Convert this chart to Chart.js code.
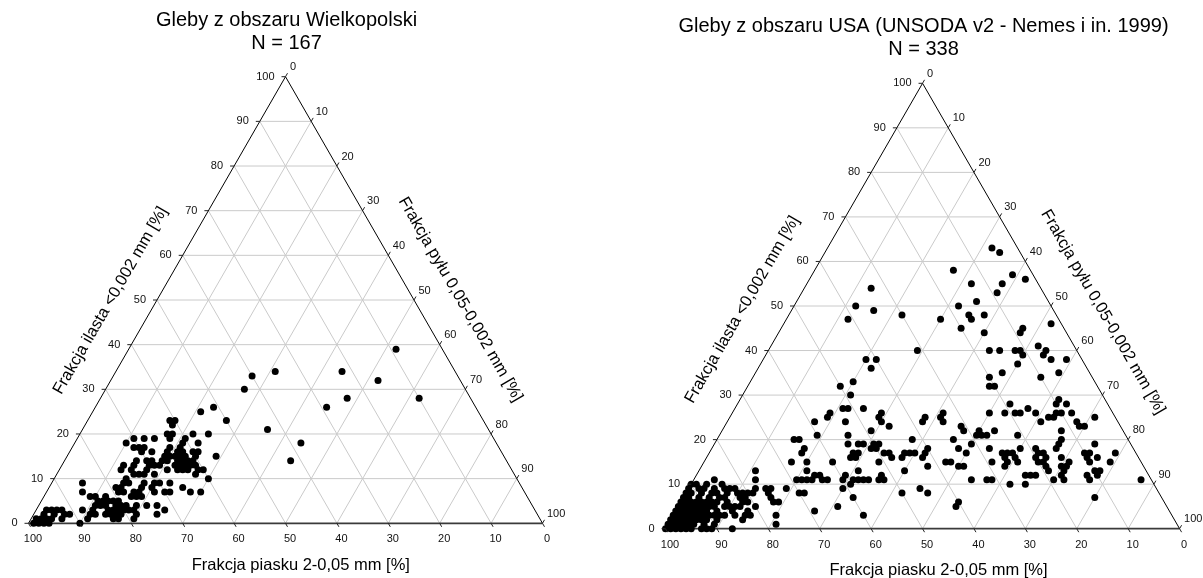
<!DOCTYPE html>
<html><head><meta charset="utf-8">
<script src="https://cdn.jsdelivr.net/npm/chart.js@4.4.1/dist/chart.umd.min.js"></script>
<style>
html,body{margin:0;padding:0;background:#fff;}
#wrap{position:relative;width:1203px;height:578px;overflow:hidden;background:#fff;}
canvas{position:absolute;top:0;}
</style></head><body>
<div id="wrap">
<canvas id="c1" width="601" height="578" style="left:0"></canvas>
<canvas id="c2" width="602" height="578" style="left:601px"></canvas>
</div>
<script>
// ---- texts ----
const wlkpTitle = ['Gleby z obszaru Wielkopolski', 'N = 167'];
const usaTitle = ['Gleby z obszaru USA (UNSODA v2 - Nemes i in. 1999)', 'N = 338'];
const sandAxisTitle = 'Frakcja piasku 2-0,05 mm [%]';
const clayAxisTitle = 'Frakcja ilasta <0,002 mm [%]';
const siltAxisTitle = 'Frakcja pyłu 0,05-0,002 mm [%]';
const tickValues = [0, 10, 20, 30, 40, 50, 60, 70, 80, 90, 100];
const gridValues = [10, 20, 30, 40, 50, 60, 70, 80, 90];

// ---- data: [sand %, clay %] ----
const wlkpSoils = [
[9,39],[22,34],[16,32],[24,28],[10,28],[29,26],[38,18],[42,14],[43,21],[35,34],[40,33],[43,30],[51,26],[54,25],[50,23],[55,20],[56,15],[60,10],[63,7],[65,7],[66,8],[62,11],[58,18],[58,20],[60,16],[59,16],[60,15],
[61,23],[60,23],[61,22],[63,20],[62,20],[63,19],[60,19],[70,19],[68,19],[66,19],[72,18],[61,18],[71,17],[70,17],[69,17],[70,16],[68,16],[62,17],
[64,17],[65,16],[63,16],[62,16],[66,15],[65,15],[64,15],[63,15],[62,15],[66,14],[64,14],[63,14],[62,14],[61,14],[65,13],[64,13],[63,13],[62,13],[61,13],[65,12],[64,12],[63,12],[61,12],[60,12],
[69,14],[68,13],[67,14],[69,13],[67,12],
[79,8],[77,9],[76,9],[79,7],[78,7],[76,7],[75,7],[75,13],[76,12],[74,11],[72,11],[72,14],[70,14],[73,13],[70,13],[70,11],[70,9],[72,8],[71,9],[70,7],[69,7],[72,7],[76,10],[78,8],[77,6],[76,6],[75,6],[74,12],[71,12],[73,9],[74,8],[68,9],[73,11],
[77,4],[78,3],[78,2],[80,3],[80,4],[79,4],[75,4],[73,4],[72,3],[74,2],[79,3],[79,1],[81,2],
[85,9],[86,7],[88,3],[88,1],[90,0],[86,2],[84,5],[83,5],[82,6],[86,3],[85,4],[84,4],[83,3],[83,2],[83,1],[82,1],[82,2],[82,5],[82,3],[84,6],[81,5],[81,4],[85,6],[83,4],[81,3],[80,5],[84,2],[87,2],
[98,0],[97,0],[96,0],[99,0],[97,1],[96,1],[95,1],[93,1],[96,2],[94,2],[92,2],[91,2],[95,3],[94,3],[93,3],[92,3],[98,1]
];

const usaSoils = [
[5,63],[4,62],[15,58],[33,54],[4,57],[7,55],[9,53],[2,56],[13,55],[14,51],[18,50],[38,50],[35,49],[41,47],[30,48],[23,47],[17,48],[17,47],[14,48],[20,45],[16,44],[9,44],[8,45],[2,46],
[31,40],[17,40],[15,40],[12,40],[11,40],[11,39],[7,41],[6,40],[7,39],[6,38],[3,38],[42,38],[40,38],[42,36],[13,37],[10,34],[6,35],[20,34],[17,35],[21,32],[20,32],[47,33],[50,32],[49,30],
[9,29],[10,28],[8,28],[19,28],[8,26],[11,26],[10,26],[19,26],[18,26],[16,27],[15,26],[24,26],[21,26],[13,25],[12,25],[15,24],[8,24],[8,23],[7,23],[4,25],[12,22],[25,22],[21,21],[28,22],[29,21],[28,21],[27,21],[31,23],[31,22],
[34,20],[34,18],[31,19],[33,17],[28,18],[29,15],[26,17],[26,16],[27,14],[24,17],[24,16],[22,18],[24,15],[25,17],[26,15],[24,12],[23,12],[22,12],[28,10],[25,10],[32,11],[31,11],[35,11],[19,18],[19,17],[20,16],[18,17],[18,16],[20,15],[19,15],[19,14],[19,13],[19,11],[17,12],[17,11],[16,14],[15,16],[15,14],[16,13],[15,18],[14,19],[13,20],[14,15],[10,17],[10,16],[9,17],[7,19],[10,15],[8,16],[9,13],[10,12],[10,13],[12,12],[12,11],[13,7],[6,15],[4,17],[2,11],[38,15],[37,15],[36,14],[35,14],[41,5],[40,6],
[59,24],[56,25],[55,26],[52,27],[51,27],[53,24],[54,21],[55,19],[60,21],[65,20],[64,20],[64,18],[65,17],[68,15],[65,15],[66,13],[60,15],[48,27],[45,26],[46,25],[46,24],[45,23],[49,22],[50,19],[50,18],[51,18],[49,19],[53,19],[52,19],[55,17],[54,17],[56,16],[55,16],[49,17],[48,17],[48,16],[51,15],[42,20],[40,18],[41,17],[42,16],[46,16],[45,17],[44,17],[43,17],[42,14],[47,13],[34,24],[34,25],[33,26],[38,24],[37,25],[46,9],[45,8],[50,8],[60,3],[60,7],[61,9],[64,5],[69,4],[77,3],[70,8],[69,8],[72,9],[69,11],[68,11],[67,11],[66,11],[65,12],[64,12],[63,11],[60,11],[59,12],[58,11],[57,11],[56,11],[55,11],[53,11],[52,12],[52,11],[59,10],[56,13],[64,11],[75,9],[76,7],
[85,11],[84,10],[83,9],[82,9],[82,8],[88,9],[87,8],[90,7],[89,6],[85,6],[85,5],[84,5],[83,5],[82,6],[81,6],[82,4],[80,5],[84,2],[87,0],[89,9],[86,9],[84,9],[93,5],[91,5],[90,6],[94,5],[95,3],[96,3],[98,2],[99,1],[100,0],[88,5],[86,5],[85,4],[88,3],[87,3],[85,3],[83,3],[82,3],[92,0],[81,8],[80,8],[79,8],[82,7],[81,7],[76,13],[77,11],[78,9],[76,9],[76,8],[76,6],[75,6],[78,1],
[99,0],[98,0],[97,0],[96,0],[95,0],[93,0],[91,0],
[98,1],[97,1],[96,1],[95,1],[94,1],[92,1],[90,1],
[97,2],[96,2],[95,2],[94,2],[93,2],[92,2],[91,2],[89,2],
[97,3],[94,3],[93,3],[92,3],[91,3],[90,3],[89,3],
[96,4],[95,4],[94,4],[93,4],[92,4],[91,4],[90,4],[88,4],
[95,5],[92,5],[90,5],[89,5],
[94,6],[93,6],[92,6],[91,6],[88,6],[87,6],
[93,7],[92,7],[88,7],[86,7],[85,7],
[92,8],[91,8],[89,8],[86,8],[84,8],
[91,9],[90,10],[89,10],[87,10]
];

// ---- ternary helpers (sand, clay) -> chart coords ----
function T(s, c) { return { x: 100 - s - c / 2, y: c }; }
const FONT = '"Liberation Sans", Arial, Helvetica, sans-serif';

function lineDs(pts, color, width, order) {
  return { type: 'scatter', data: pts, showLine: true, borderColor: color, borderWidth: width,
    pointRadius: 0, pointHoverRadius: 0, fill: false, clip: false, order: order };
}

function buildDatasets(points) {
  const ds = [];
  ds.push({ type: 'scatter', data: points.map(p => T(p[0], p[1])), pointRadius: 3.5, pointHoverRadius: 3.5,
    backgroundColor: '#000', borderWidth: 0, clip: false, order: 0 });
  ds.push(lineDs([T(100, 0), T(0, 100), T(0, 0)], '#000', 1, 1));
  ds.push(lineDs([T(100, 0), T(0, 0)], '#3a3a3a', 1.8, 1));
  for (const k of gridValues) {
    ds.push(lineDs([T(100 - k, k), T(0, k)], '#cacaca', 1, 5));
    ds.push(lineDs([T(k, 0), T(k, 100 - k)], '#cacaca', 1, 5));
    ds.push(lineDs([T(100 - k, 0), T(0, 100 - k)], '#cacaca', 1, 5));
  }
  return ds;
}

const decorPlugin = {
  id: 'ternaryDecor',
  afterDraw(chart, args, opts) {
    const ctx = chart.ctx;
    const xs = chart.scales.x, ys = chart.scales.y;
    const P = (s, c) => { const t = T(s, c); return { x: xs.getPixelForValue(t.x), y: ys.getPixelForValue(t.y) }; };
    ctx.save();
    ctx.strokeStyle = '#222';
    ctx.lineWidth = 1;
    ctx.fillStyle = '#111';
    ctx.font = '11px ' + FONT;
    for (const k of tickValues) {
      // clay (left side)
      let p = P(100 - k, k);
      ctx.beginPath(); ctx.moveTo(p.x - 4, p.y); ctx.lineTo(p.x, p.y); ctx.stroke();
      ctx.textAlign = 'right'; ctx.textBaseline = 'middle';
      ctx.fillText(String(k), p.x - 11, p.y);
      // sand (bottom)
      p = P(k, 0);
      ctx.beginPath(); ctx.moveTo(p.x, p.y); ctx.lineTo(p.x + 2, p.y + 3.5); ctx.stroke();
      ctx.textAlign = 'center'; ctx.textBaseline = 'middle';
      ctx.fillText(String(k), p.x + 4.5, p.y + 16);
      // silt (right side)
      p = P(0, 100 - k);
      ctx.beginPath(); ctx.moveTo(p.x, p.y); ctx.lineTo(p.x + 2, p.y - 3.5); ctx.stroke();
      ctx.textAlign = 'left'; ctx.textBaseline = 'middle';
      ctx.fillText(String(k), p.x + 4.5, p.y - 9.5);
    }
    const BL = P(100, 0), BR = P(0, 0), AP = P(0, 100);
    ctx.fillStyle = '#000';
    // chart title
    ctx.font = '20px ' + FONT;
    ctx.textAlign = 'center'; ctx.textBaseline = 'middle';
    ctx.fillText(opts.title[0], AP.x + 1, AP.y - 56.5);
    ctx.fillText(opts.title[1], AP.x + 1, AP.y - 33.7);
    // axis titles
    ctx.font = '16.5px ' + FONT;
    ctx.fillText(opts.bottomText, BL.x + opts.bottom[0], BL.y + opts.bottom[1]);
    // left side
    let lx = AP.x - BL.x, ly = AP.y - BL.y, len = Math.hypot(lx, ly);
    let tx = lx / len, ty = ly / len, nx = ty, ny = -tx;
    let cx = BL.x + tx * opts.left[0] + nx * opts.left[1], cy = BL.y + ty * opts.left[0] + ny * opts.left[1];
    ctx.save(); ctx.translate(cx, cy); ctx.rotate(Math.atan2(ty, tx));
    ctx.fillText(opts.leftText, 0, 0); ctx.restore();
    // right side
    lx = AP.x - BR.x; ly = AP.y - BR.y; len = Math.hypot(lx, ly);
    tx = lx / len; ty = ly / len; nx = -ty; ny = tx;
    cx = BR.x + tx * opts.right[0] + nx * opts.right[1]; cy = BR.y + ty * opts.right[0] + ny * opts.right[1];
    ctx.save(); ctx.translate(cx, cy); ctx.rotate(Math.atan2(-ty, -tx));
    ctx.fillText(opts.rightText, 0, 0); ctx.restore();
    ctx.restore();
  }
};

function makeTernary(id, points, title, pad, geo) {
  return new Chart(document.getElementById(id), {
    type: 'scatter',
    data: { datasets: buildDatasets(points) },
    plugins: [decorPlugin],
    options: {
      responsive: false, animation: false, devicePixelRatio: 1, events: [],
      layout: { padding: pad },
      scales: {
        x: { type: 'linear', min: 0, max: 100, display: false },
        y: { type: 'linear', min: 0, max: 100, display: false }
      },
      plugins: {
        legend: { display: false }, tooltip: { enabled: false }, title: { display: false },
        ternaryDecor: Object.assign({ title: title, bottomText: sandAxisTitle, leftText: clayAxisTitle, rightText: siltAxisTitle }, geo)
      }
    }
  });
}

makeTernary('c1', wlkpSoils, wlkpTitle,
  { left: 28.5, right: 58.5, top: 76.7, bottom: 54.7 },
  { bottom: [272.3, 41.7], left: [234, 40], right: [235, 40.5] });
makeTernary('c2', usaSoils, usaTitle,
  { left: 64.5, right: 23.4, top: 83.3, bottom: 49.3 },
  { bottom: [273, 41.3], left: [228, 43], right: [226, 42] });
</script>
</body></html>
